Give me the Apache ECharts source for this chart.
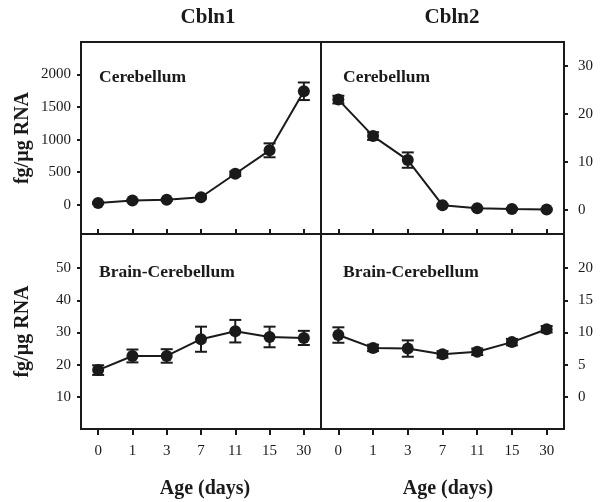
<!DOCTYPE html>
<html><head><meta charset="utf-8">
<script src="https://cdn.jsdelivr.net/npm/echarts@6/dist/echarts.min.js"></script>
<style>html,body{margin:0;padding:0;background:#fff}#c{width:601px;height:502px}</style>
</head><body><div id="c"></div>
<script>
const categories = ['0','1','3','7','11','15','30'];
const cbln1Cb = [25, 65, 75, 115, 475, 836, 1743];
const cbln1CbErr = [12, 15, 15, 20, 35, 107, 135];
const cbln2Cb = [23.0, 15.4, 10.4, 1.0, 0.35, 0.2, 0.1];
const cbln2CbErr = [0.8, 0.8, 1.6, 0.2, 0.2, 0.2, 0.2];
const cbln1Br = [18.3, 22.7, 22.7, 27.9, 30.4, 28.6, 28.3];
const cbln1BrErr = [1.5, 2.0, 2.1, 3.9, 3.5, 3.2, 2.2];
const cbln2Br = [9.6, 7.6, 7.5, 6.6, 7.0, 8.5, 10.5];
const cbln2BrErr = [1.2, 0.5, 1.27, 0.5, 0.5, 0.5, 0.5];
const yTicksTL = [0, 500, 1000, 1500, 2000];
const yTicksTR = [0, 10, 20, 30];
const yTicksBL = [10, 20, 30, 40, 50];
const yTicksBR = [0, 5, 10, 15, 20];

const FONT = '"Liberation Serif", "Times New Roman", serif';
const INK = '#1a1a1a';

const grids = [
  {left: 81, top: 42, width: 240, height: 192},
  {left: 321, top: 42, width: 243, height: 192},
  {left: 81, top: 234, width: 240, height: 195},
  {left: 321, top: 234, width: 243, height: 195}
].map(g => Object.assign({show: true, borderColor: INK, borderWidth: 2, backgroundColor: 'transparent'}, g));

function xAxis(i, top) {
  return {
    type: 'category', gridIndex: i, data: categories, boundaryGap: true, position: 'bottom',
    axisLine: {show: false, onZero: false},
    axisTick: {show: true, alignWithLabel: true, inside: top, length: top ? 5 : 6, lineStyle: {color: INK, width: 2}},
    axisLabel: {show: !top, margin: 15, color: INK, fontFamily: FONT, fontSize: 15},
    splitLine: {show: false}
  };
}
function yAxis(i, min, max, ticks, right, name) {
  return {
    type: 'value', gridIndex: i, min: min, max: max, position: right ? 'right' : 'left',
    axisLine: {show: false, onZero: false},
    axisTick: {show: true, customValues: ticks, length: 4, lineStyle: {color: INK, width: 2}},
    axisLabel: {show: true, customValues: ticks, margin: right ? 14 : 10, color: INK, fontFamily: FONT, fontSize: 15,
      formatter: v => String(v)},
    splitLine: {show: false},
    name: name || '', nameLocation: 'middle', nameGap: 48, nameRotate: 90,
    nameTextStyle: {fontFamily: FONT, fontSize: 20, fontWeight: 'bold', color: INK}
  };
}

function errData(vals, errs) {
  return vals.map((v, k) => [k, v + errs[k], v - errs[k]]);
}
function errSeries(i, vals, errs) {
  return {
    type: 'custom', xAxisIndex: i, yAxisIndex: i, z: 3,
    encode: {x: 0, y: [1, 2]},
    data: errData(vals, errs),
    renderItem: function (params, api) {
      const x = api.value(0);
      const p1 = api.coord([x, api.value(1)]);
      const p2 = api.coord([x, api.value(2)]);
      const w = 6;
      const st = {stroke: INK, lineWidth: 2};
      return {type: 'group', children: [
        {type: 'line', shape: {x1: p1[0], y1: p1[1], x2: p2[0], y2: p2[1]}, style: st},
        {type: 'line', shape: {x1: p1[0] - w, y1: p1[1], x2: p1[0] + w, y2: p1[1]}, style: st},
        {type: 'line', shape: {x1: p2[0] - w, y1: p2[1], x2: p2[0] + w, y2: p2[1]}, style: st}
      ]};
    }
  };
}
function lineSeries(i, vals) {
  return {
    type: 'line', xAxisIndex: i, yAxisIndex: i, data: vals, z: 4,
    symbol: 'circle', symbolSize: 12, showSymbol: true,
    lineStyle: {color: INK, width: 2}, itemStyle: {color: INK, borderWidth: 0},
    emphasis: {disabled: true}, animation: false
  };
}

const chart = echarts.init(document.getElementById('c'), null, {renderer: 'canvas'});
chart.setOption({
  animation: false,
  backgroundColor: '#fff',
  title: [
    {text: 'Cbln1', left: 203, top: 2, textAlign: 'center', textStyle: {fontFamily: FONT, fontSize: 21, fontWeight: 'bold', color: INK}},
    {text: 'Cbln2', left: 447, top: 2, textAlign: 'center', textStyle: {fontFamily: FONT, fontSize: 21, fontWeight: 'bold', color: INK}},
    {text: 'Age (days)', left: 200, top: 474, textAlign: 'center', textStyle: {fontFamily: FONT, fontSize: 20, fontWeight: 'bold', color: INK}},
    {text: 'Age (days)', left: 443, top: 474, textAlign: 'center', textStyle: {fontFamily: FONT, fontSize: 20, fontWeight: 'bold', color: INK}}
  ],
  grid: grids,
  xAxis: [xAxis(0, true), xAxis(1, true), xAxis(2, false), xAxis(3, false)],
  yAxis: [
    yAxis(0, -450, 2500, yTicksTL, false, 'fg/µg RNA'),
    yAxis(1, -5, 35, yTicksTR, true),
    yAxis(2, 0, 60.6, yTicksBL, false, 'fg/µg RNA'),
    yAxis(3, -5, 25.3, yTicksBR, true)
  ],
  graphic: [
    {type: 'text', left: 99, top: 68, style: {text: 'Cerebellum', fontFamily: FONT, fontSize: 17.5, fontWeight: 'bold', fill: INK}},
    {type: 'text', left: 343, top: 68, style: {text: 'Cerebellum', fontFamily: FONT, fontSize: 17.5, fontWeight: 'bold', fill: INK}},
    {type: 'text', left: 99, top: 263, style: {text: 'Brain-Cerebellum', fontFamily: FONT, fontSize: 17.5, fontWeight: 'bold', fill: INK}},
    {type: 'text', left: 343, top: 263, style: {text: 'Brain-Cerebellum', fontFamily: FONT, fontSize: 17.5, fontWeight: 'bold', fill: INK}}
  ],
  series: [
    errSeries(0, cbln1Cb, cbln1CbErr), lineSeries(0, cbln1Cb),
    errSeries(1, cbln2Cb, cbln2CbErr), lineSeries(1, cbln2Cb),
    errSeries(2, cbln1Br, cbln1BrErr), lineSeries(2, cbln1Br),
    errSeries(3, cbln2Br, cbln2BrErr), lineSeries(3, cbln2Br)
  ]
});
</script></body></html>
